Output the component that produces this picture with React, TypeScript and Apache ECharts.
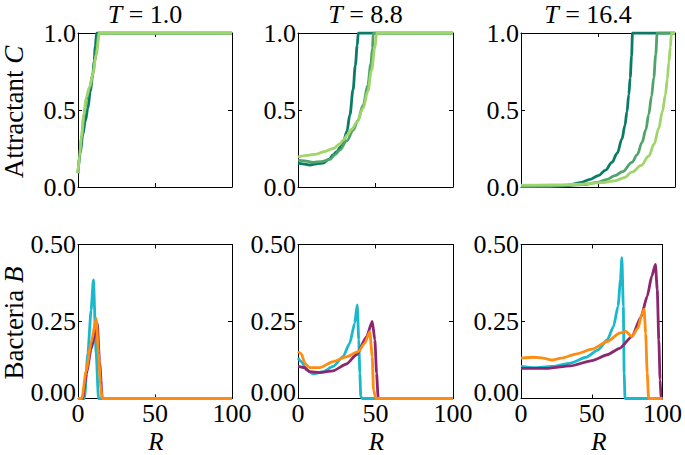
import React, { useEffect, useRef } from "react";
import * as echarts from "echarts";

// ---- Data (R, value) ----
const titles = ["1.0", "8.8", "16.4"];
const xTicks = [0, 50, 100];
const cTicks = ["0.0", "0.5", "1.0"];
const bTicks = ["0.00", "0.25", "0.50"];

// Attractant C, T = 1.0
const cDark1 = [[0, 0.09], [1.5, 0.22], [3.1, 0.34], [4.8, 0.43], [6.4, 0.51], [8, 0.62], [9.6, 0.73], [10.5, 0.82], [11.2, 0.92], [12.2, 1], [100, 1]];
const cMed1 = [[0, 0.09], [1.2, 0.22], [2.5, 0.34], [4, 0.47], [5.5, 0.57], [7.5, 0.64], [9.8, 0.74], [11, 0.82], [12.2, 0.9], [13.3, 1], [100, 1]];
const cLight1 = [[0, 0.09], [1, 0.2], [2.1, 0.32], [3.8, 0.47], [5.3, 0.58], [7.5, 0.65], [9.6, 0.73], [11.8, 0.86], [14, 1], [100, 1]];
// Attractant C, T = 8.8
const cDark2 = [[0, 0.155], [3, 0.15], [7.7, 0.143], [12, 0.15], [16.3, 0.156], [20, 0.18], [22.8, 0.21], [25, 0.23], [27.5, 0.26], [29.2, 0.29], [31.5, 0.36], [33.5, 0.47], [35.5, 0.63], [37, 0.79], [38.2, 0.92], [38.9, 1], [100, 1]];
const cMed2 = [[0, 0.175], [4, 0.17], [9.9, 0.16], [15, 0.165], [20.6, 0.18], [24, 0.21], [27, 0.24], [31.4, 0.3], [35.7, 0.37], [38.5, 0.43], [42, 0.53], [45, 0.66], [47, 0.8], [48, 0.9], [48.6, 1], [100, 1]];
const cLight2 = [[0, 0.195], [6, 0.205], [12, 0.214], [17, 0.23], [22.8, 0.25], [27, 0.28], [29.2, 0.305], [32, 0.34], [34.6, 0.375], [38, 0.42], [42, 0.51], [45, 0.62], [47.5, 0.76], [49.5, 0.9], [50.8, 1], [100, 1]];
// Attractant C, T = 16.4
const cDark3 = [[0, 0.003], [20, 0.005], [30, 0.01], [39.3, 0.03], [45, 0.05], [50.2, 0.074], [55, 0.11], [59, 0.16], [62.5, 0.22], [65.5, 0.31], [67.5, 0.4], [68.8, 0.49], [70, 0.6], [70.9, 0.71], [71.8, 0.85], [72.4, 1], [100, 1]];
const cMed3 = [[0, 0.005], [25, 0.007], [40, 0.015], [50, 0.03], [56, 0.05], [61, 0.074], [66, 0.1], [72, 0.16], [75.5, 0.21], [78.6, 0.29], [81, 0.37], [82.9, 0.47], [84.8, 0.59], [86.2, 0.71], [87.5, 0.86], [88.4, 1], [100, 1]];
const cLight3 = [[0, 0.012], [20, 0.013], [40, 0.018], [52, 0.028], [61, 0.04], [67, 0.06], [72, 0.096], [78, 0.14], [82.9, 0.2], [86.5, 0.28], [89.4, 0.38], [91.8, 0.49], [93.8, 0.6], [95, 0.7], [96, 0.81], [97, 0.91], [97.7, 1], [100, 1]];

// Bacteria B, T = 1.0
const bCyan1 = [[0, 0], [4.2, 0], [6.4, 0.147], [8.5, 0.287], [10, 0.385], [11.8, 0.147], [13.3, 0], [100, 0]];
const bPurple1 = [[0, 0], [3, 0], [5.5, 0.08], [8.5, 0.16], [12.5, 0.245], [14, 0.12], [15.8, 0], [100, 0]];
const bOrange1 = [[0, 0], [2.5, 0], [5.3, 0.09], [8.5, 0.18], [11.8, 0.26], [13.3, 0.147], [14.6, 0.05], [15.6, 0], [100, 0]];
// Bacteria B, T = 8.8
const bCyan2 = [[0, 0.131], [2.2, 0.12], [5.4, 0.093], [9.7, 0.08], [16.2, 0.087], [22.6, 0.104], [29.1, 0.136], [33.4, 0.18], [36.6, 0.245], [38.2, 0.304], [39.2, 0.19], [39.9, 0.082], [40.5, 0.006], [41.5, 0], [100, 0]];
const bPurple2 = [[0, 0.104], [4.3, 0.1], [7.5, 0.087], [14, 0.084], [22.6, 0.09], [31.3, 0.112], [37.7, 0.142], [44.2, 0.2], [47.9, 0.25], [49.6, 0.19], [50.7, 0.082], [51.7, 0.003], [52.5, 0], [100, 0]];
const bOrange2 = [[0, 0.152], [2.2, 0.145], [4.3, 0.115], [7.5, 0.1], [14, 0.1], [22.6, 0.12], [31.3, 0.135], [38.8, 0.152], [43.1, 0.18], [46.3, 0.217], [47.9, 0.136], [48.7, 0.028], [50.2, 0], [100, 0]];
// Bacteria B, T = 16.4
const bCyan3 = [[0, 0.104], [9.1, 0.1], [22, 0.104], [35, 0.115], [45.9, 0.134], [54.5, 0.158], [61, 0.19], [65.4, 0.234], [68.6, 0.3], [70.3, 0.386], [71.3, 0.457], [72.3, 0.3], [72.9, 0.082], [73.5, 0], [100, 0]];
const bPurple3 = [[0, 0.098], [17.7, 0.098], [35, 0.106], [50.2, 0.123], [61, 0.142], [69.7, 0.163], [78.4, 0.201], [84.9, 0.266], [89.2, 0.332], [92.4, 0.397], [95, 0.435], [96.3, 0.353], [97.4, 0.19], [98.3, 0.06], [99, 0], [100, 0]];
const bOrange3 = [[0, 0.131], [9.1, 0.134], [15.6, 0.131], [22, 0.125], [28.5, 0.131], [39.4, 0.145], [50.2, 0.16], [61, 0.185], [69.7, 0.212], [74, 0.218], [78.4, 0.201], [82.7, 0.229], [85.3, 0.272], [87, 0.29], [88.1, 0.212], [89.2, 0.082], [90.2, 0], [100, 0]];

const greens = ["#0b7b66", "#4fa46c", "#9fd56a"];
const bactColors = ["#1ab8cc", "#8c266f", "#ff8c12"];

const panelC = [[cDark1, cMed1, cLight1], [cDark2, cMed2, cLight2], [cDark3, cMed3, cLight3]];
const panelB = [[bCyan1, bPurple1, bOrange1], [bCyan2, bPurple2, bOrange2], [bCyan3, bPurple3, bOrange3]];

const FONT = "Liberation Serif";
const colLeft = [78, 298, 521];
const colWidth = [154, 155, 154];
const rowTop = [33, 244.5];
const rowHeight = 154;

export default function App() {
  const ref = useRef<HTMLDivElement>(null);
  useEffect(() => {
    if (!ref.current) return;
    const chart = echarts.init(ref.current, null, { renderer: "svg" });
    const grids: any[] = [];
    const xAxes: any[] = [];
    const yAxes: any[] = [];
    const series: any[] = [];
    const lineSt = { color: "#000", width: 1 };
    for (let i = 0; i < 6; i++) {
      const row = Math.floor(i / 3);
      const col = i % 3;
      grids.push({ left: colLeft[col], top: rowTop[row], width: colWidth[col], height: rowHeight, containLabel: false });
      const xBase = {
        gridIndex: i, type: "value", min: 0, max: 100, interval: 50,
        axisLine: { show: true, onZero: false, lineStyle: lineSt },
        axisTick: { show: true, inside: true, length: 4, lineStyle: lineSt },
        splitLine: { show: false },
      };
      xAxes.push({
        ...xBase, position: "bottom",
        axisLabel: {
          show: row === 1, margin: 6, color: "#000", fontFamily: FONT, fontSize: 26, lineHeight: 18,
          formatter: (v: number) => (xTicks.includes(v) ? String(v) : ""),
        },
      });
      xAxes.push({ ...xBase, position: "top", axisLabel: { show: false } });
      const isC = row === 0;
      const yBase = {
        gridIndex: i, type: "value", min: 0, max: isC ? 1 : 0.5, interval: isC ? 0.5 : 0.25,
        axisLine: { show: true, onZero: false, lineStyle: lineSt },
        axisTick: { show: true, inside: true, length: 4, lineStyle: lineSt },
        splitLine: { show: false },
      };
      const ticks = isC ? cTicks : bTicks;
      yAxes.push({
        ...yBase, position: "left",
        axisLabel: {
          show: true, margin: 2, color: "#000", fontFamily: FONT, fontSize: 26, lineHeight: 18,
          formatter: (v: number) => {
            const idx = Math.round(v / (isC ? 0.5 : 0.25));
            const s = ticks[idx] ?? "";
            return !isC && idx === 0 ? `{lo|${s}}` : s;
          },
          rich: { lo: { fontFamily: FONT, fontSize: 26, lineHeight: 18, padding: [0, 0, 12, 0] } },
        },
      });
      yAxes.push({ ...yBase, position: "right", axisLabel: { show: false } });
      const sets = isC ? panelC[col] : panelB[col];
      const colors = isC ? greens : bactColors;
      sets.forEach((d, k) => {
        series.push({
          type: "line", xAxisIndex: 2 * i, yAxisIndex: 2 * i, data: d,
          showSymbol: false, symbol: "none", smooth: isC ? 0.35 : 0.2, smoothMonotone: "x",
          lineStyle: { color: colors[k], width: 2.8 }, itemStyle: { color: colors[k] },
        });
      });
    }
    const graphics: any[] = [];
    const mk = (size: number, lh: number) => ({
      i: { fontFamily: FONT, fontStyle: "italic", fontSize: size, lineHeight: lh, fill: "#000" },
    });
    const txt = (text: string, size: number, lh: number) => ({
      text, fontFamily: FONT, fontSize: size, lineHeight: lh, fill: "#000",
      align: "center", verticalAlign: "middle", rich: mk(size, lh),
    });
    titles.forEach((t, c) => {
      graphics.push({ type: "text", x: colLeft[c] + colWidth[c] / 2 - 10, y: 14, style: txt(`{i|T} = ${t}`, 26, 24) });
      graphics.push({ type: "text", x: colLeft[c] + colWidth[c] / 2 + 1, y: 441, style: txt(`{i|R}`, 25, 20) });
    });
    graphics.push({ type: "text", x: 14, y: 112, rotation: Math.PI / 2, style: txt("Attractant {i|C}", 27, 26) });
    graphics.push({ type: "text", x: 14, y: 323, rotation: Math.PI / 2, style: txt("Bacteria {i|B}", 27, 26) });
    chart.setOption({
      animation: false,
      backgroundColor: "#fff",
      textStyle: { fontFamily: FONT },
      grid: grids,
      xAxis: xAxes,
      yAxis: yAxes,
      series,
      graphic: graphics,
    });
    return () => chart.dispose();
  }, []);
  return <div ref={ref} style={{ position: "fixed", left: 0, top: 0, width: 685, height: 455 }} />;
}
